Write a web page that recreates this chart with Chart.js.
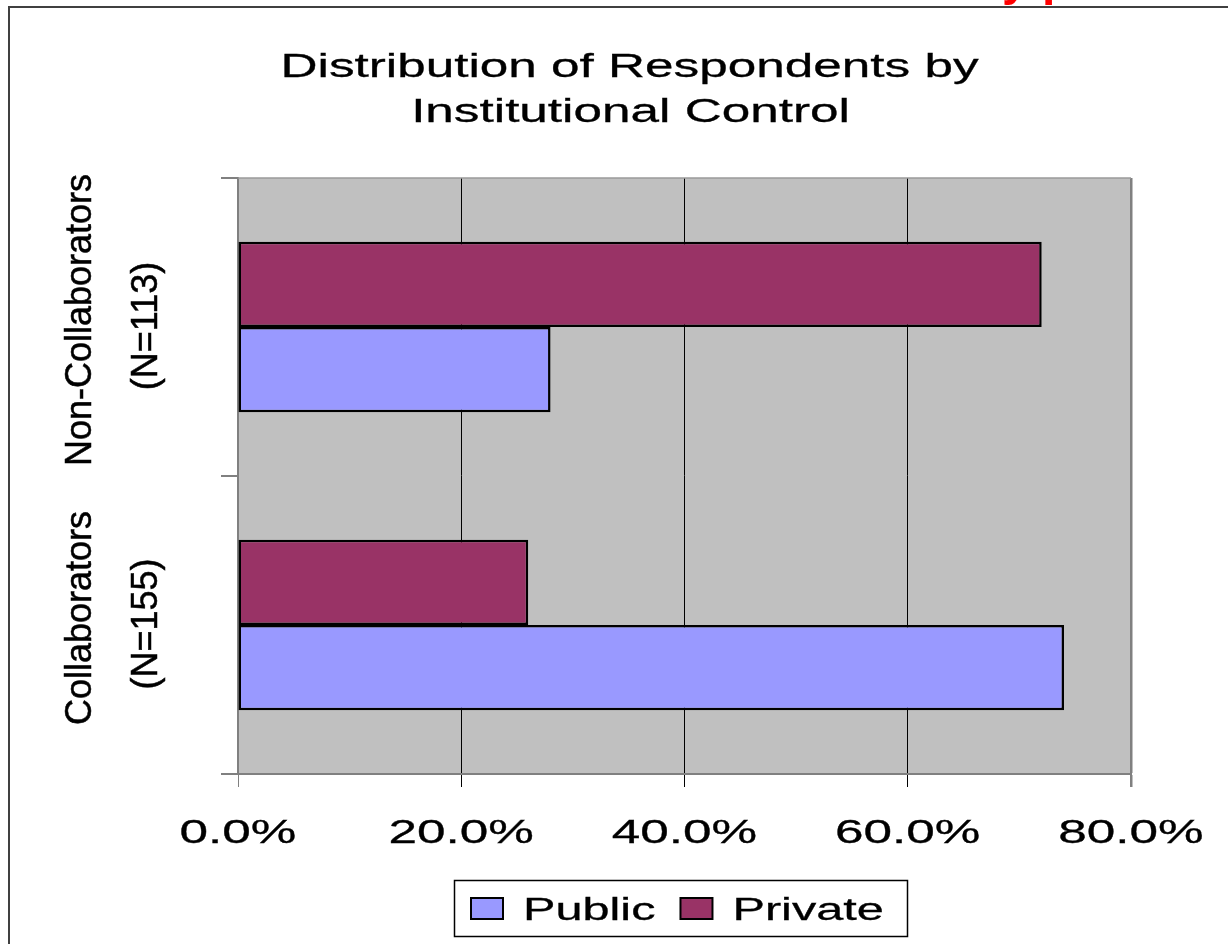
<!DOCTYPE html>
<html>
<head>
<meta charset="utf-8">
<script src="https://cdn.jsdelivr.net/npm/chart.js@4.4.1/dist/chart.umd.min.js"></script>
<style>
  html, body { margin: 0; padding: 0; background: #ffffff; }
  canvas { display: block; }
</style>
</head>
<body>
<canvas id="chart" width="1228" height="944"></canvas>
<script>
// Respondent groups, top to bottom
const groupNames = ['Non-Collaborators', 'Collaborators'];
const groupSizes = ['(N=113)', '(N=155)'];

// Share of each group by institutional control (percent)
const publicShare = [28, 74];
const privateShare = [72, 26];

// Value axis
const xTickLabels = ['0.0%', '20.0%', '40.0%', '60.0%', '80.0%'];

const titleLines = ['Distribution of Respondents by', 'Institutional Control'];
const headerFragment = 'y p';

const FONT = '"Liberation Sans", Arial, Helvetica, sans-serif';

// Draws text with a horizontal stretch factor (wide Excel-style lettering),
// with a hairline outline of the same colour to give slightly heavier strokes
function wideText(ctx, text, x, y, size, sx, align, weight) {
  ctx.save();
  ctx.font = (weight ? weight + ' ' : '') + size + 'px ' + FONT;
  ctx.textAlign = 'left';
  ctx.textBaseline = 'alphabetic';
  const w = ctx.measureText(text).width * sx;
  let x0 = x;
  if (align === 'center') x0 = x - w / 2;
  else if (align === 'right') x0 = x - w;
  ctx.translate(x0, y);
  ctx.scale(sx, 1);
  ctx.fillText(text, 0, 0);
  ctx.strokeStyle = ctx.fillStyle;
  ctx.lineWidth = 0.3;
  ctx.strokeText(text, 0, 0);
  ctx.restore();
  return w;
}

const decorations = {
  id: 'decorations',
  beforeDraw(chart) {
    const { ctx, chartArea: a } = chart;
    ctx.save();
    ctx.fillStyle = '#ffffff';
    ctx.fillRect(0, 0, chart.width, chart.height);
    ctx.fillStyle = '#C0C0C0';
    ctx.fillRect(a.left, a.top, a.right - a.left, a.bottom - a.top);
    ctx.restore();
  },
  afterDraw(chart) {
    const { ctx, chartArea: a } = chart;
    const xs = chart.scales.x;
    const ys = chart.scales.y;
    ctx.save();

    // plot area top edge
    ctx.strokeStyle = '#9a9a9a';
    ctx.lineWidth = 1.5;
    ctx.beginPath();
    ctx.moveTo(a.left, a.top);
    ctx.lineTo(a.right, a.top);
    ctx.stroke();

    // slide frame
    ctx.fillStyle = '#404040';
    ctx.fillRect(8, 6, chart.width - 8, 2);
    ctx.fillRect(8, 6, 2, chart.height - 6);

    // heading text running off the top edge
    ctx.fillStyle = '#FF0000';
    ctx.font = 'bold 48px ' + FONT;
    ctx.textAlign = 'left';
    ctx.textBaseline = 'alphabetic';
    ctx.fillText(headerFragment, 1002, -5);

    // title
    ctx.fillStyle = '#000000';
    wideText(ctx, titleLines[0], 629.5, 77, 33.5, 1.53, 'center');
    wideText(ctx, titleLines[1], 630.5, 122, 33.5, 1.53, 'center');

    // value axis labels
    xs.ticks.forEach((t, i) => {
      const px = xs.getPixelForValue(t.value);
      wideText(ctx, xTickLabels[i], px, 843, 33.5, 1.53, 'center');
    });

    // category labels, rotated
    ctx.font = '36px ' + FONT;
    ctx.textAlign = 'center';
    ctx.textBaseline = 'alphabetic';
    ctx.fillStyle = '#000000';
    ctx.strokeStyle = '#000000';
    ctx.lineWidth = 0.5;
    chart.data.labels.forEach((lines, i) => {
      const cy = ys.getPixelForTick(i);
      ctx.save();
      ctx.translate(91, cy - 7);
      ctx.rotate(-Math.PI / 2);
      ctx.fillText(lines[0], 0, 0);
      ctx.strokeText(lines[0], 0, 0);
      ctx.restore();
      ctx.save();
      ctx.translate(157, cy - 1);
      ctx.rotate(-Math.PI / 2);
      ctx.fillText(lines[1], 0, 0);
      ctx.strokeText(lines[1], 0, 0);
      ctx.restore();
    });

    // legend
    const boxL = 454, boxT = 880, boxW = 453, boxH = 56;
    ctx.fillStyle = '#ffffff';
    ctx.fillRect(boxL, boxT, boxW, boxH);
    ctx.strokeStyle = '#000000';
    ctx.lineWidth = 1.5;
    ctx.strokeRect(boxL + 0.5, boxT + 0.5, boxW, boxH);
    let x = boxL + 17;
    const items = chart.data.datasets.slice().reverse();
    items.forEach((ds) => {
      ctx.fillStyle = ds.backgroundColor;
      ctx.fillRect(x, 898, 32, 21);
      ctx.strokeStyle = '#000000';
      ctx.lineWidth = 2;
      ctx.strokeRect(x, 898, 32, 21);
      x += 52;
      ctx.fillStyle = '#000000';
      const w = wideText(ctx, ds.label, x, 920, 32, 1.52, 'left');
      x += w + 25;
    });

    ctx.restore();
  }
};

const gridColor = (c) => (c.tick && (c.tick.value === 80 || c.tick.value === 0)) ? '#808080' : '#000000';
const gridWidth = (c) => (c.tick && c.tick.value === 80) ? 2.5 : 1;

new Chart(document.getElementById('chart'), {
  type: 'bar',
  data: {
    labels: groupNames.map((n, i) => [n, groupSizes[i]]),
    datasets: [
      {
        label: 'Private',
        data: privateShare,
        backgroundColor: '#993366',
        borderColor: '#000000',
        borderWidth: 2.5,
        borderSkipped: false,
        categoryPercentage: 0.572,
        barPercentage: 1
      },
      {
        label: 'Public',
        data: publicShare,
        backgroundColor: '#9999FF',
        borderColor: '#000000',
        borderWidth: 2.5,
        borderSkipped: false,
        categoryPercentage: 0.572,
        barPercentage: 1
      }
    ]
  },
  options: {
    indexAxis: 'y',
    responsive: false,
    animation: false,
    devicePixelRatio: 1,
    layout: { padding: { left: 221, right: 97, top: 178, bottom: 157 } },
    plugins: {
      legend: { display: false },
      title: { display: false },
      tooltip: { enabled: false }
    },
    scales: {
      x: {
        type: 'linear',
        min: 0,
        max: 80,
        ticks: { stepSize: 20, display: false },
        grid: { color: gridColor, lineWidth: gridWidth, tickLength: 13, drawTicks: true },
        border: { display: true, color: '#808080', width: 2 },
        afterFit(s) { s.height = 13; }
      },
      y: {
        type: 'category',
        ticks: { display: false },
        grid: { drawOnChartArea: false, offset: true, tickLength: 17, color: '#808080', lineWidth: 2 },
        border: { display: true, color: '#808080', width: 2 },
        afterFit(s) { s.width = 17; }
      }
    }
  },
  plugins: [decorations]
});
</script>
</body>
</html>
